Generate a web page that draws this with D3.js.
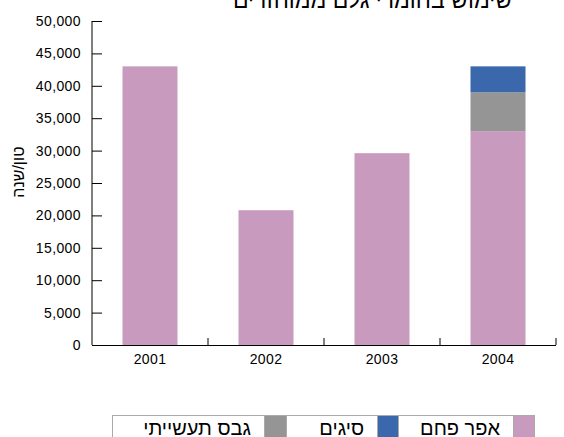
<!DOCTYPE html>
<html><head><meta charset="utf-8">
<script src="https://cdn.jsdelivr.net/npm/d3@7"></script>
<style>
body{margin:0;background:#fff;}
svg{display:block;font-family:"Liberation Sans",Arial,sans-serif;}
</style></head>
<body><svg id="c" width="564" height="437"></svg>
<script>
const years = ["2001","2002","2003","2004"];
const seriesNames = ["אפר פחם","גבס תעשייתי","סיגים"];
const flyAsh = [43000, 20800, 29600, 33000];
const gypsum = [0, 0, 0, 6000];
const slag = [0, 0, 0, 4000];
const colors = ["#c89bbe","#959595","#3b67ad"];
const yTicks = [0,5000,10000,15000,20000,25000,30000,35000,40000,45000,50000];
const title = "שימוש בחומרי גלם ממוחזרים";
const yLabel = "טון/שנה";
const legendOrder = [["אפר פחם",0],["סיגים",2],["גבס תעשייתי",1]];

const svg = d3.select("#c");
const x0 = 92, x1 = 556, yTop = 21, yBot = 345;
const x = d3.scaleBand().domain(years).range([x0, x1]).paddingInner(0).paddingOuter(0);
const y = d3.scaleLinear().domain([0,50000]).range([yBot, yTop]);

const rows = years.map((yr,i)=>({year:yr, a:flyAsh[i], g:gypsum[i], s:slag[i]}));
const stack = d3.stack().keys(["a","g","s"])(rows);
const barW = 55;
svg.append("g").selectAll("g").data(stack).join("g")
  .attr("fill",(d,i)=>colors[i])
  .selectAll("rect").data(d=>d).join("rect")
  .attr("x",d=>x(d.data.year)+x.bandwidth()/2-barW/2)
  .attr("width",barW)
  .attr("y",d=>y(d[1]))
  .attr("height",d=>y(d[0])-y(d[1]));

// y axis
const yAxis = d3.axisRight(y).tickValues(yTicks).tickSize(10).tickFormat(d3.format(","));
const gy = svg.append("g").attr("transform",`translate(${x0},0)`).call(yAxis);
gy.select(".domain").remove();
gy.selectAll(".tick line").attr("stroke","#000");
gy.selectAll(".tick text").attr("x",-11).attr("text-anchor","end")
  .attr("font-size",14).attr("fill","#000").attr("font-family","Liberation Sans, Arial, sans-serif").style("letter-spacing","0.4px");
svg.append("line").attr("x1",x0).attr("x2",x0).attr("y1",y(50000)).attr("y2",y(0)).attr("stroke","#000");

// x axis
svg.append("line").attr("x1",x0).attr("x2",x1).attr("y1",yBot+0.5).attr("y2",yBot+0.5).attr("stroke","#000");
const bounds = years.slice(1).map(d=>x(d)).concat([x1]);
svg.append("g").selectAll("line").data(bounds).join("line")
  .attr("x1",d=>d).attr("x2",d=>d).attr("y1",yBot).attr("y2",yBot-7).attr("stroke","#000");
svg.append("g").selectAll("text").data(years).join("text")
  .attr("x",d=>x(d)+x.bandwidth()/2).attr("y",yBot+19)
  .attr("text-anchor","middle").attr("font-size",14).style("letter-spacing","0.4px")
  .text(d=>d);

// title
svg.append("text").attr("x",512).attr("y",8).attr("text-anchor","end")
  .attr("font-size",23).text(title);

// y label
svg.append("text").attr("transform",`translate(24,172) rotate(-90)`)
  .attr("text-anchor","middle").attr("font-size",16).text(yLabel);

// legend
const lg = svg.append("g");
const cells = [
  {sw:[513,535], tx:[398,513], item:legendOrder[0]},
  {sw:[377,398], tx:[286,377], item:legendOrder[1]},
  {sw:[264,286], tx:[112,264], item:legendOrder[2]}
];
const lTop = 415, lBot = 438;
cells.forEach(c=>{
  lg.append("rect").attr("x",c.sw[0]).attr("y",lTop).attr("width",c.sw[1]-c.sw[0]).attr("height",lBot-lTop)
    .attr("fill",colors[c.item[1]]);
  lg.append("text").attr("x",c.tx[1]-13).attr("y",lTop+20).attr("text-anchor","end")
    .attr("font-size",20).text(c.item[0]);
});
lg.append("rect").attr("x",112.5).attr("y",lTop+0.5).attr("width",422).attr("height",30)
  .attr("fill","none").attr("stroke","#aaa");
[264,286,377,398,513].forEach(v=>lg.append("line").attr("x1",v+0.5).attr("x2",v+0.5).attr("y1",lTop).attr("y2",lBot).attr("stroke","#aaa"));
</script></body></html>
